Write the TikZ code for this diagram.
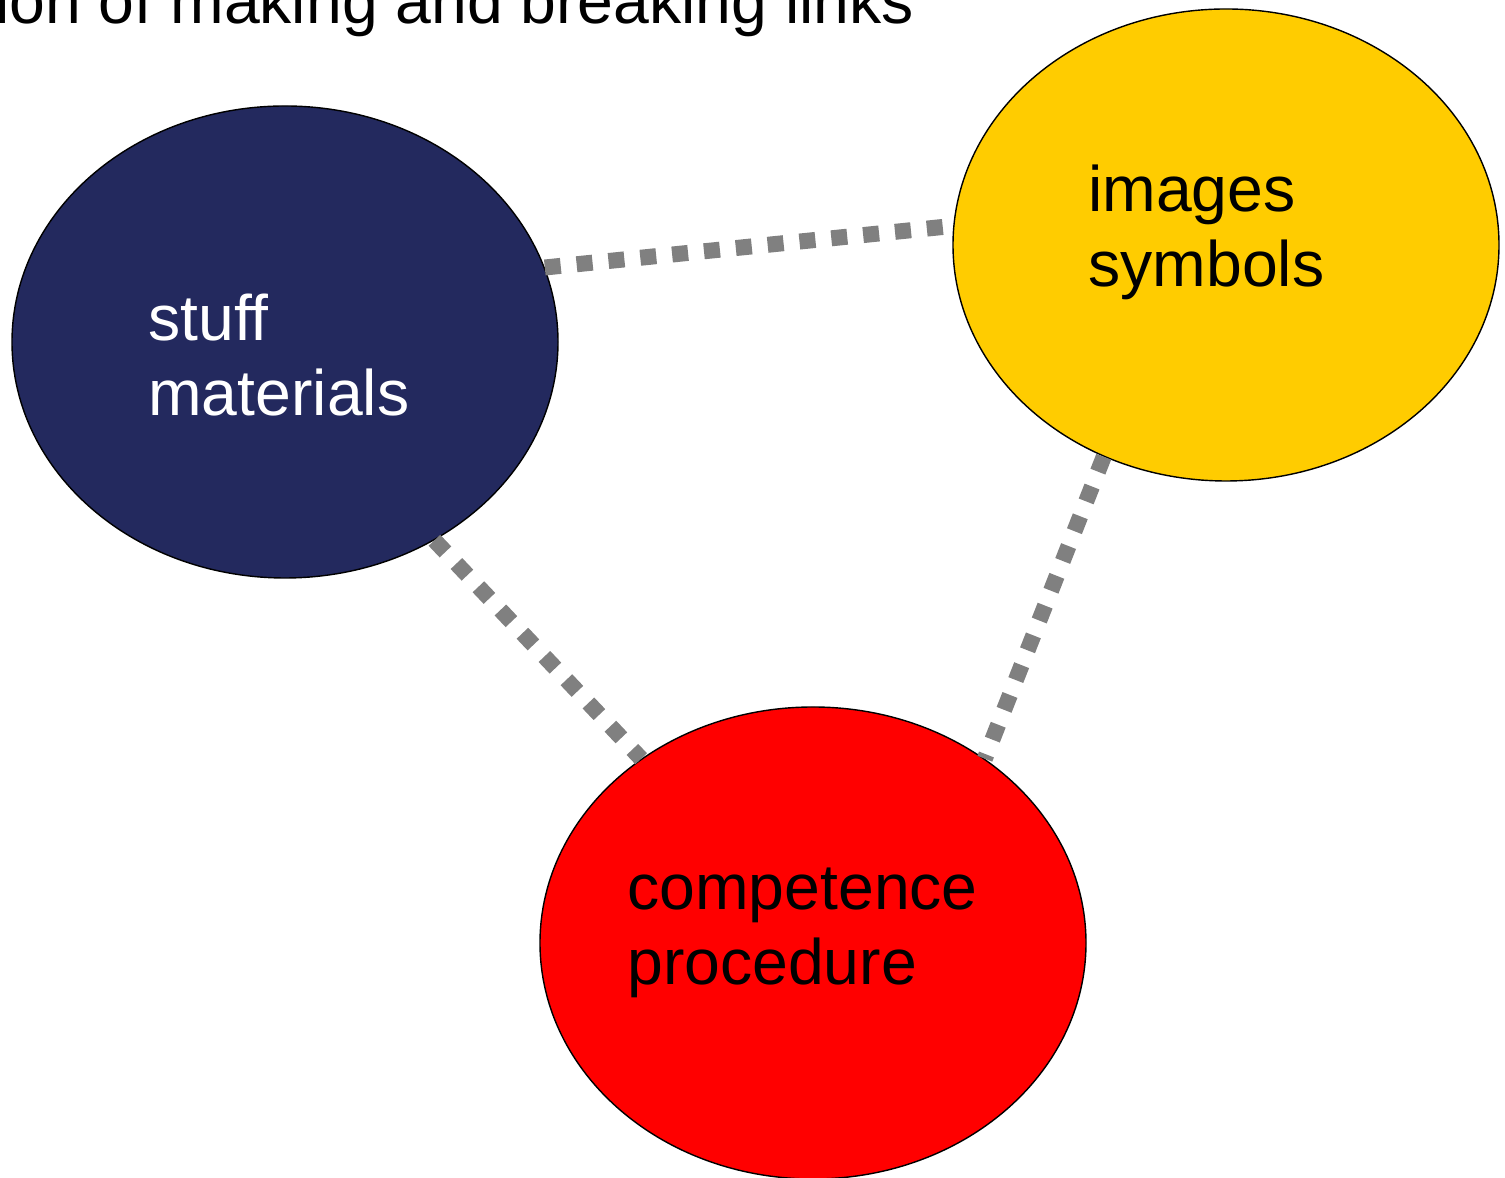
\documentclass[tikz,border=0pt]{standalone}
\usepackage{fontspec}
\setmainfont{Liberation Sans}
\usetikzlibrary{shapes.geometric}

\definecolor{navyblob}{RGB}{35,41,94}
\definecolor{goldblob}{RGB}{255,204,0}
\definecolor{redblob}{RGB}{255,0,0}

\begin{document}
\begin{tikzpicture}[
		blob/.style={ellipse, draw=black, line width=0.8pt, inner sep=0pt, minimum width=10.92cm, minimum height=9.44cm},
		link/.style={draw=gray, line width=0.32cm, dash pattern=on 0.32cm off 0.32cm},
		lbl/.style={inner sep=0pt, align=left, font=\fontsize{36.6}{43}\selectfont}
	]
		\useasboundingbox (0,0) rectangle (30.1,23.56);
		% title, cut by the page edge
		\node[lbl, anchor=base west] (title) at (-0.1,23.08) {ion of making and breaking links};

		% the three sides
		\node[blob, fill=navyblob] (stuff) at (5.70,16.72) {};
		\node[blob, fill=goldblob] (images) at (24.52,18.66) {};
		\node[blob, fill=redblob] (comp) at (16.26,4.70) {};

		% labels (base = last line)
		\node[lbl, text=white, anchor=base west] (stufftxt) at (2.96,15.24) {stuff\\materials};
		\node[lbl, anchor=base west] (imagestxt) at (21.76,17.82) {images\\symbols};
		\node[lbl, anchor=base west] (comptxt) at (12.54,3.86) {competence\\procedure};

		% links between them
		\draw[link] (stuff.16) -- (images.176);
		\draw[link] (stuff.-53) -- (comp.133);
		\draw[link] (images.240) -- (comp.47);
\end{tikzpicture}
\end{document}
